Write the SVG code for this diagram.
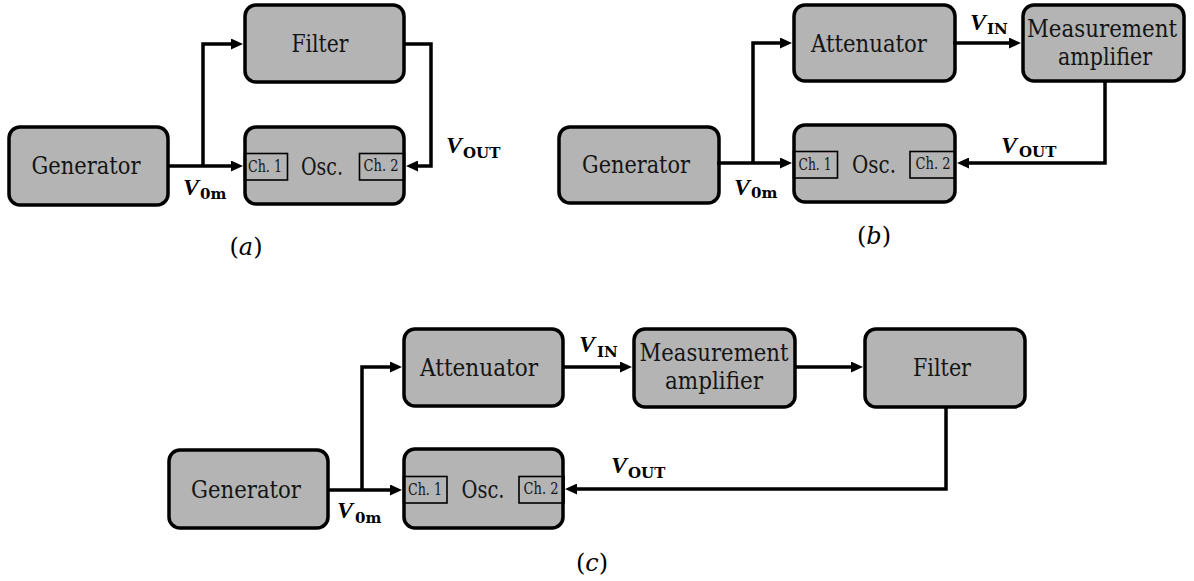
<svg xmlns="http://www.w3.org/2000/svg" width="1194" height="581" viewBox="0 0 1194 581">
  <style>
    .box { fill: #b4b4b4; stroke: #000; stroke-width: 3.5; }
    .ch { fill: none; stroke: #000; stroke-width: 1.6; }
    .wire { fill: none; stroke: #000; stroke-width: 3.5; stroke-linejoin: miter; }
    .arr { marker-end: url(#head); }
    .lbl { font-family: "DejaVu Serif", "Liberation Serif", serif; font-size: 24px; text-anchor: middle; fill: #141414; }
    .chl { font-family: "DejaVu Serif", "Liberation Serif", serif; font-size: 16px; text-anchor: middle; fill: #141414; }
    .v { font-family: "Liberation Serif", serif; font-weight: bold; font-style: italic; font-size: 24px; fill: #000; }
    .sub { font-family: "DejaVu Serif", serif; font-weight: bold; font-size: 15px; fill: #000; }
    .cap { font-family: "DejaVu Serif", serif; font-size: 24px; text-anchor: middle; fill: #000; }
    .it { font-style: italic; }
  </style>
  <defs>
    <marker id="head" viewBox="0 0 12 11" markerWidth="12" markerHeight="11" refX="2" refY="5.5" orient="auto" markerUnits="userSpaceOnUse">
      <path d="M0,0 L12,5.5 L0,11 z" fill="#000"/>
    </marker>
  </defs>
  <rect width="1194" height="581" fill="#fff"/>

  <!-- ===== Setup (a) ===== -->
  <g id="a-generator">
    <rect class="box" x="9" y="127" width="159" height="78" rx="11"/>
    <text class="lbl" x="86" y="174" textLength="109" lengthAdjust="spacingAndGlyphs">Generator</text>
  </g>
  <g id="a-filter">
    <rect class="box" x="245" y="5" width="159" height="77" rx="11"/>
    <text class="lbl" x="320" y="52" textLength="57" lengthAdjust="spacingAndGlyphs">Filter</text>
  </g>
  <g id="a-osc">
    <rect class="box" x="245" y="127" width="159" height="77" rx="11"/>
    <rect class="ch" x="244.5" y="153.5" width="43" height="26.5"/>
    <rect class="ch" x="359.5" y="153.5" width="45" height="26.5"/>
    <text class="chl" x="265" y="172" textLength="34" lengthAdjust="spacingAndGlyphs">Ch. 1</text>
    <text class="chl" x="381" y="171" textLength="35" lengthAdjust="spacingAndGlyphs">Ch. 2</text>
    <text class="lbl" x="322" y="175" textLength="42" lengthAdjust="spacingAndGlyphs">Osc.</text>
  </g>
  <g id="a-connectors">
    <path class="wire arr" d="M168,166 H233"/>
    <path class="wire arr" d="M203,166 V44 H233"/>
    <path class="wire arr" d="M404,44 H431 V166 H416"/>
  </g>
  <g id="a-labels">
    <text class="v" x="183" y="195">V</text><text class="sub" x="200" y="199">0m</text>
    <text class="v" x="446" y="153">V</text><text class="sub" x="463" y="158">OUT</text>
    <text class="cap" x="246" y="255">(<tspan class="it">a</tspan>)</text>
  </g>

  <!-- ===== Setup (b) ===== -->
  <g id="b-generator">
    <rect class="box" x="559" y="127" width="160" height="76" rx="11"/>
    <text class="lbl" x="636" y="173" textLength="108" lengthAdjust="spacingAndGlyphs">Generator</text>
  </g>
  <g id="b-attenuator">
    <rect class="box" x="794" y="5" width="161" height="76" rx="11"/>
    <text class="lbl" x="869" y="52" textLength="116" lengthAdjust="spacingAndGlyphs">Attenuator</text>
  </g>
  <g id="b-amplifier">
    <rect class="box" x="1023" y="5" width="161" height="76" rx="11"/>
    <text class="lbl" x="1102" y="37" textLength="150" lengthAdjust="spacingAndGlyphs">Measurement</text>
    <text class="lbl" x="1105" y="65" textLength="94" lengthAdjust="spacingAndGlyphs">amplifier</text>
  </g>
  <g id="b-osc">
    <rect class="box" x="794" y="125" width="161" height="77" rx="11"/>
    <rect class="ch" x="793.5" y="151.5" width="44" height="26.5"/>
    <rect class="ch" x="910" y="151.5" width="45" height="26.5"/>
    <text class="chl" x="815" y="170" textLength="33" lengthAdjust="spacingAndGlyphs">Ch. 1</text>
    <text class="chl" x="933" y="169" textLength="35" lengthAdjust="spacingAndGlyphs">Ch. 2</text>
    <text class="lbl" x="874" y="173" textLength="44" lengthAdjust="spacingAndGlyphs">Osc.</text>
  </g>
  <g id="b-connectors">
    <path class="wire arr" d="M717,163 H782"/>
    <path class="wire arr" d="M753,163 V43 H782"/>
    <path class="wire arr" d="M953,43 H1011"/>
    <path class="wire arr" d="M1105,81 V163 H967"/>
  </g>
  <g id="b-labels">
    <text class="v" x="734" y="195">V</text><text class="sub" x="751" y="198">0m</text>
    <text class="v" x="970" y="30">V</text><text class="sub" x="987" y="34">IN</text>
    <text class="v" x="1001" y="153">V</text><text class="sub" x="1019" y="157">OUT</text>
    <text class="cap" x="874" y="244">(<tspan class="it">b</tspan>)</text>
  </g>

  <!-- ===== Setup (c) ===== -->
  <g id="c-generator">
    <rect class="box" x="169" y="450" width="159" height="78" rx="11"/>
    <text class="lbl" x="246" y="498" textLength="110" lengthAdjust="spacingAndGlyphs">Generator</text>
  </g>
  <g id="c-attenuator">
    <rect class="box" x="404" y="329" width="159" height="77" rx="11"/>
    <text class="lbl" x="479" y="376" textLength="118" lengthAdjust="spacingAndGlyphs">Attenuator</text>
  </g>
  <g id="c-amplifier">
    <rect class="box" x="634" y="329" width="161" height="78" rx="11"/>
    <text class="lbl" x="714" y="361" textLength="149" lengthAdjust="spacingAndGlyphs">Measurement</text>
    <text class="lbl" x="714" y="389" textLength="98" lengthAdjust="spacingAndGlyphs">amplifier</text>
  </g>
  <g id="c-filter">
    <rect class="box" x="865" y="329" width="160" height="78" rx="11"/>
    <text class="lbl" x="942" y="376" textLength="58" lengthAdjust="spacingAndGlyphs">Filter</text>
  </g>
  <g id="c-osc">
    <rect class="box" x="404" y="449" width="159" height="79" rx="11"/>
    <rect class="ch" x="403.5" y="476.5" width="43.5" height="26.5"/>
    <rect class="ch" x="519" y="476.5" width="45" height="26.5"/>
    <text class="chl" x="425" y="495" textLength="34" lengthAdjust="spacingAndGlyphs">Ch. 1</text>
    <text class="chl" x="541" y="494" textLength="35" lengthAdjust="spacingAndGlyphs">Ch. 2</text>
    <text class="lbl" x="483" y="498" textLength="43" lengthAdjust="spacingAndGlyphs">Osc.</text>
  </g>
  <g id="c-connectors">
    <path class="wire arr" d="M328,490 H392"/>
    <path class="wire arr" d="M362,490 V367 H392"/>
    <path class="wire arr" d="M563,367 H622"/>
    <path class="wire arr" d="M795,367 H853"/>
    <path class="wire arr" d="M946,407 V489 H575"/>
  </g>
  <g id="c-labels">
    <text class="v" x="337" y="518">V</text><text class="sub" x="355" y="523">0m</text>
    <text class="v" x="579" y="352">V</text><text class="sub" x="597" y="357">IN</text>
    <text class="v" x="611" y="473">V</text><text class="sub" x="628" y="478">OUT</text>
    <text class="cap" x="592" y="571">(<tspan class="it">c</tspan>)</text>
  </g>
</svg>
